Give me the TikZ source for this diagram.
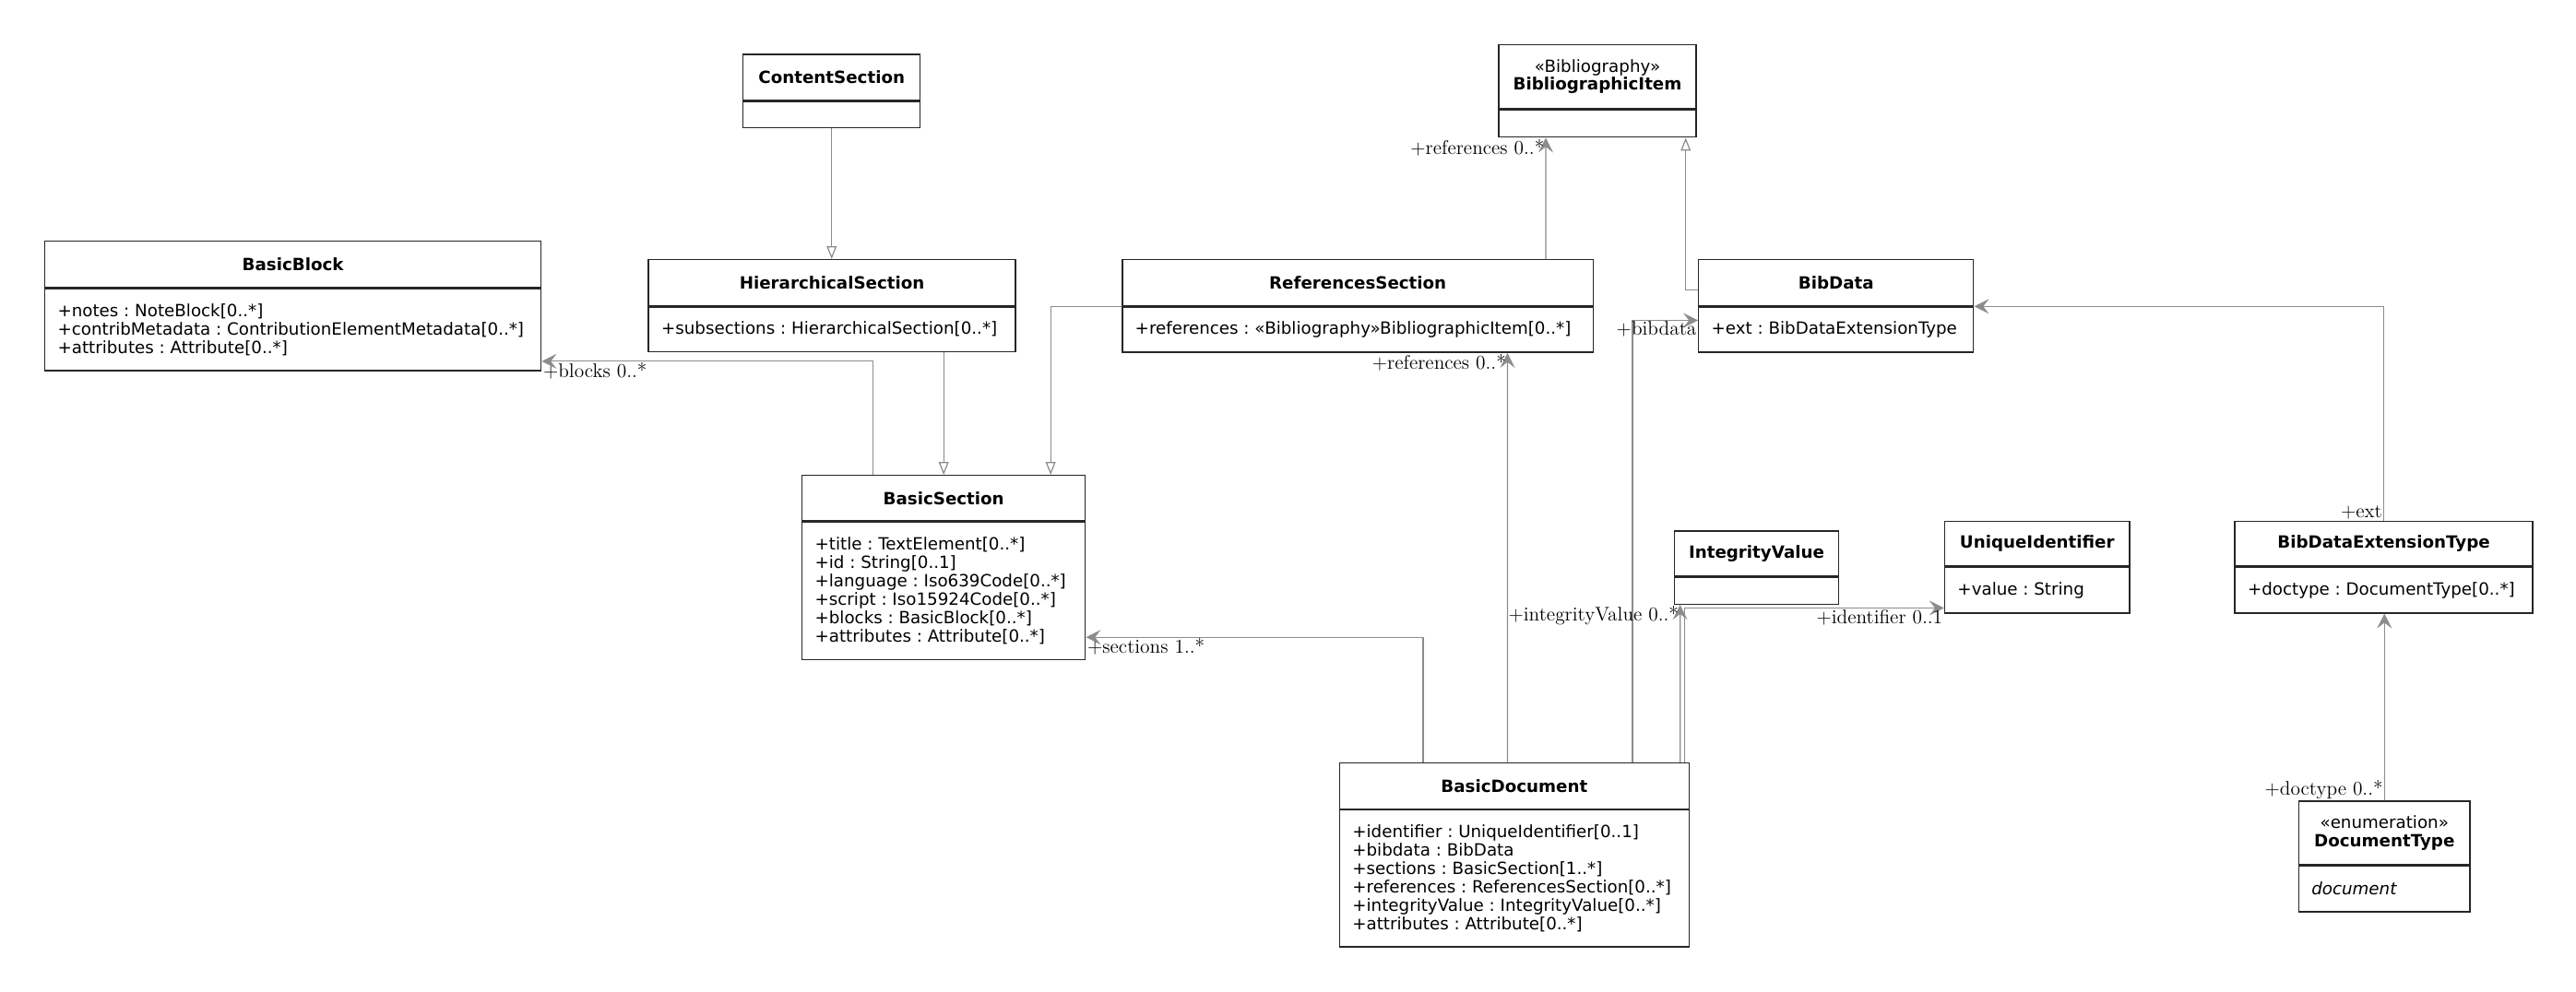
\documentclass[tikz,border=0pt]{standalone}
\usepackage{fontspec}
\newfontfamily\umlfont{DejaVu Sans}
\usetikzlibrary{arrows.meta,positioning}
\begin{document}
\begin{tikzpicture}[x=1pt, y=-1pt,
  every node/.style={inner sep=0pt},
  classname/.style={draw=black!85, line width=0.8pt, fill=white, anchor=north west,
    minimum width=#1, minimum height=28pt, align=center,
    font=\umlfont\fontsize{10.25}{10.8}\selectfont\bfseries},
  classattr/.style={draw=black!85, line width=0.8pt, fill=white, minimum width=#1},
  attrtext/.style={align=left, font=\umlfont\fontsize{10.25}{11.2}\selectfont\frenchspacing},
  assoc/.style={draw=black!45, line width=0.7pt, -{Stealth[length=9pt, width=9pt, inset=3.5pt]}},
  generalize/.style={draw=black!45, line width=0.7pt, -{Triangle[open, length=7.8pt, width=6pt]}},
  role/.style={inner sep=0.6pt, font=\fontsize{12}{14}\selectfont}]
%
\useasboundingbox (0,0) rectangle (1568.2,603.6);
%
\node[classname=107.8pt, minimum height=27.7pt] (contentsection) at (452,32.8) {ContentSection};
\node[classattr=107.8pt, minimum height=16.2pt, below=0pt of contentsection] (contentsection-attr) {};
%
\node[classname=302.1pt] (basicblock) at (26.9,146.5) {BasicBlock};
\node[classattr=302.1pt, minimum height=50.1pt, below=0pt of basicblock] (basicblock-attr) {};
\node[attrtext, right=8pt of basicblock-attr.west] (basicblock-text)
  {+notes : NoteBlock[0..*]\\ +contribMetadata : ContributionElementMetadata[0..*]\\ +attributes : Attribute[0..*]};
%
\node[classname=223.4pt] (hiersection) at (394.4,157.8) {HierarchicalSection};
\node[classattr=223.4pt, minimum height=27.1pt, below=0pt of hiersection] (hiersection-attr) {};
\node[attrtext, right=8pt of hiersection-attr.west] (hiersection-text) {+subsections : HierarchicalSection[0..*]};
%
\node[classname=286.8pt] (refsection) at (682.8,157.8) {ReferencesSection};
\node[classattr=286.8pt, minimum height=27.6pt, below=0pt of refsection] (refsection-attr) {};
\node[attrtext, right=8pt of refsection-attr.west] (refsection-text)
  {+references : «Bibliography»BibliographicItem[0..*]};
%
\node[classname=120.3pt, minimum height=39.1pt] (bibitem) at (911.9,26.8) {{\mdseries «Bibliography»}\\ BibliographicItem};
\node[classattr=120.3pt, minimum height=16.4pt, below=0pt of bibitem] (bibitem-attr) {};
%
\node[classname=167.3pt] (bibdata) at (1033.7,157.8) {BibData};
\node[classattr=167.3pt, minimum height=27.6pt, below=0pt of bibdata] (bibdata-attr) {};
\node[attrtext, right=8pt of bibdata-attr.west] (bibdata-text) {+ext : BibDataExtensionType};
%
\node[classname=172.4pt, minimum height=27.7pt] (basicsection) at (487.9,289.2) {BasicSection};
\node[classattr=172.4pt, minimum height=83.6pt, below=0pt of basicsection] (basicsection-attr) {};
\node[attrtext, right=8pt of basicsection-attr.west] (basicsection-text)
  {+title : TextElement[0..*]\\ +id : String[0..1]\\ +language : Iso639Code[0..*]\\
   +script : Iso15924Code[0..*]\\ +blocks : BasicBlock[0..*]\\ +attributes : Attribute[0..*]};
%
\node[classname=100.2pt, minimum height=27.5pt] (integrity) at (1018.8,322.9) {IntegrityValue};
\node[classattr=100.2pt, minimum height=16.4pt, below=0pt of integrity] (integrity-attr) {};
%
\node[classname=112.5pt, minimum height=27.2pt] (uniqueid) at (1183.5,317.2) {UniqueIdentifier};
\node[classattr=112.5pt, minimum height=27.7pt, below=0pt of uniqueid] (uniqueid-attr) {};
\node[attrtext, right=8pt of uniqueid-attr.west] (uniqueid-text) {+value : String};
%
\node[classname=181.3pt, minimum height=27.2pt] (bibdataext) at (1360.1,317.2) {BibDataExtensionType};
\node[classattr=181.3pt, minimum height=27.7pt, below=0pt of bibdataext] (bibdataext-attr) {};
\node[attrtext, right=8pt of bibdataext-attr.west] (bibdataext-text) {+doctype : DocumentType[0..*]};
%
\node[classname=104.3pt, minimum height=38.8pt] (doctype) at (1399,487.5) {{\mdseries «enumeration»}\\ DocumentType};
\node[classattr=104.3pt, minimum height=27.7pt, below=0pt of doctype] (doctype-attr) {};
\node[attrtext, right=8pt of doctype-attr.west] (doctype-text) {\itshape document};
%
\node[classname=212.7pt] (basicdoc) at (815.1,464.2) {BasicDocument};
\node[classattr=212.7pt, minimum height=83.3pt, below=0pt of basicdoc] (basicdoc-attr) {};
\node[attrtext, right=8pt of basicdoc-attr.west] (basicdoc-text)
  {+identifier : UniqueIdentifier[0..1]\\ +bibdata : BibData\\ +sections : BasicSection[1..*]\\
   +references : ReferencesSection[0..*]\\ +integrityValue : IntegrityValue[0..*]\\ +attributes : Attribute[0..*]};
%
\draw[generalize] (contentsection-attr.south) -- (hiersection.north -| contentsection-attr.south);
\draw[generalize] (hiersection-attr.south -| basicsection.north) -- (basicsection.north);
\draw[generalize] (refsection-attr.north west) -| ([xshift=-21.5pt]basicsection.north east);
\draw[generalize] ([yshift=9.9pt]bibdata.south west) -| ([xshift=-6.8pt]bibitem-attr.south east);
%
\draw[assoc] ([xshift=43.7pt]basicsection.north west) |- ([yshift=6.2pt]basicblock-attr.south east)
  node[role, anchor=north west] {+blocks 0..*};
\draw[assoc] ([xshift=-29.4pt]refsection.north east) -- ([xshift=29.1pt]bibitem-attr.south west)
  node[role, anchor=north east] {+references 0..*};
\draw[assoc] ([xshift=51.3pt]basicdoc.north west) |- ([yshift=14pt]basicsection-attr.south east)
  node[role, anchor=north west] {+sections 1..*};
\draw[assoc] ([xshift=102.6pt]basicdoc.north west) -- ([xshift=-52.7pt]refsection-attr.south east)
  node[role, anchor=north east] {+references 0..*};
\draw[assoc] ([xshift=178.7pt]basicdoc.north west) |- ([yshift=-8.5pt]bibdata-attr.north west)
  node[role, anchor=north east] {+bibdata};
\draw[assoc] ([xshift=-5.8pt]basicdoc.north east) -- ([xshift=4pt]integrity-attr.south west)
  node[role, anchor=north east] {+integrityValue 0..*};
\draw[assoc] ([xshift=-3.2pt]basicdoc.north east) |- ([yshift=3.4pt]uniqueid-attr.south west)
  node[role, anchor=north east] {+identifier 0..1};
\draw[assoc] (bibdataext.north) node[role, anchor=south east] {+ext} |- (bibdata-attr.north east);
\draw[assoc] (doctype.north) node[role, anchor=south east] {+doctype 0..*} -- (doctype.north |- bibdataext-attr.south);
%
\end{tikzpicture}
\end{document}
